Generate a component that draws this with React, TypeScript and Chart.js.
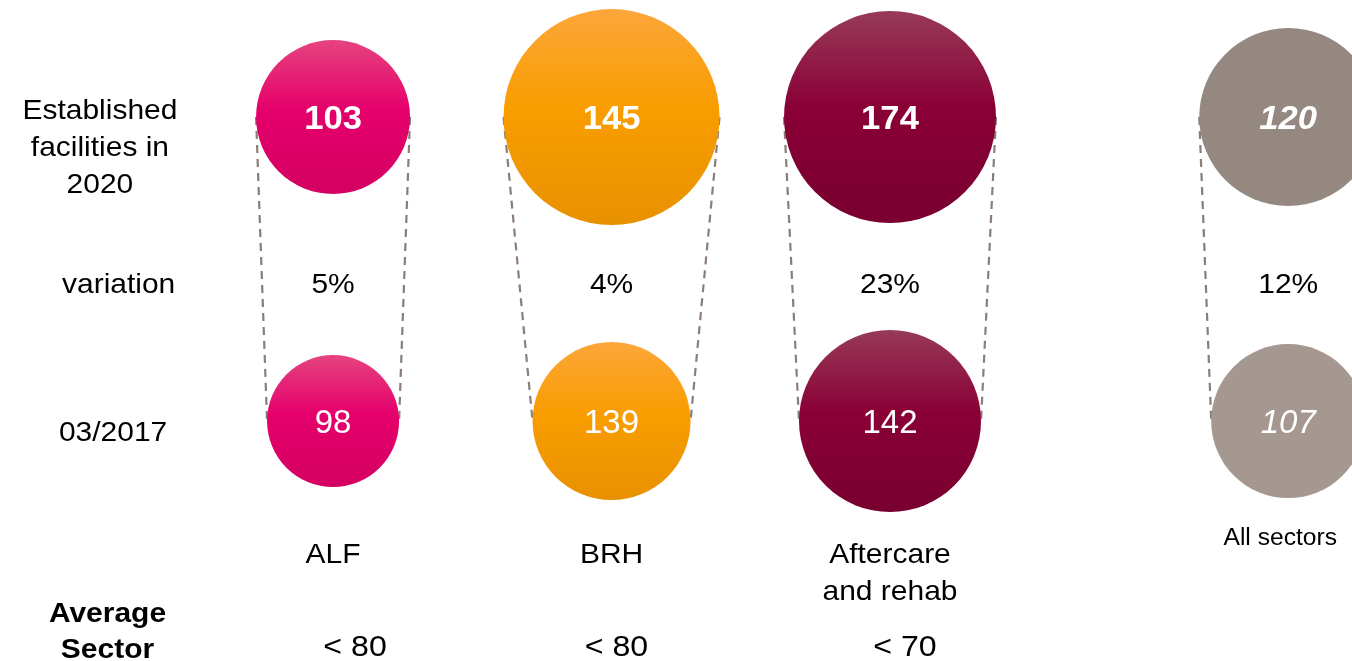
import React, { useEffect, useRef } from "react";
import { Chart, registerables } from "chart.js";
Chart.register(...registerables);

// ---- data ----
const categoryLines: string[][] = [["ALF"], ["BRH"], ["Aftercare", "and rehab"], ["All sectors"]];
const categoryPos = [1, 2, 3, 4.43];
const established2020 = [103, 145, 174, 120];
const facilities2017 = [98, 139, 142, 107];
const variationLabels = ["5%", "4%", "23%", "12%"];
const averageSector = ["< 80", "< 80", "< 70"];
const radius2020 = [77, 108, 106, 89];
const radius2017 = [66, 79, 91, 77];
const rowLabel2020 = ["Established", "facilities in", "2020"];
const rowLabelVariation = "variation";
const rowLabel2017 = "03/2017";
const rowLabelAverage = ["Average", "Sector"];

// ---- styles ----
const gradTop = ["#e6437f", "#fca63a", "#973a58", "#948880"];
const gradMid = ["#e5006b", "#f99d00", "#8a0036", "#948880"];
const gradBot = ["#d50063", "#e89100", "#790030", "#948880"];
const gradTop17 = ["#e6437f", "#fca63a", "#973a58", "#a59890"];
const gradMid17 = ["#e5006b", "#f99d00", "#8a0036", "#a59890"];
const gradBot17 = ["#d50063", "#e89100", "#790030", "#a59890"];
const FONT = "'Liberation Sans', Arial, sans-serif";
const TEXT_SCALE_X = 1.07;
const TEXT_DY = 2;

const ROW_TOP = 0;
const ROW_BOTTOM = 1;

function drawText(ctx: CanvasRenderingContext2D, text: string, x: number, y: number, font: string, color: string, sx = TEXT_SCALE_X) {
  ctx.save();
  ctx.translate(x, y + TEXT_DY);
  ctx.scale(sx, 1);
  ctx.font = font;
  ctx.fillStyle = color;
  ctx.textAlign = "center";
  ctx.textBaseline = "middle";
  ctx.fillText(text, 0, 0);
  ctx.restore();
}

function makeGradient(ctx: CanvasRenderingContext2D, cy: number, r: number, c0: string, c1: string, c2: string) {
  const g = ctx.createLinearGradient(0, cy - r, 0, cy + r);
  g.addColorStop(0, c0);
  g.addColorStop(0.45, c1);
  g.addColorStop(1, c2);
  return g;
}

const gradientPlugin = {
  id: "bubbleGradients",
  beforeDatasetsDraw(chart: any) {
    const ctx = chart.ctx as CanvasRenderingContext2D;
    const sets = [
      { radius: radius2020, top: gradTop, mid: gradMid, bot: gradBot },
      { radius: radius2017, top: gradTop17, mid: gradMid17, bot: gradBot17 },
    ];
    sets.forEach((s, d) => {
      const meta = chart.getDatasetMeta(d);
      meta.data.forEach((el: any, i: number) => {
        if (!Number.isFinite(el.y)) return;
        const g = makeGradient(ctx, el.y, s.radius[i], s.top[i], s.mid[i], s.bot[i]);
        el.options = Object.assign({}, el.options, { backgroundColor: g });
      });
    });
  },
};

const connectorPlugin = {
  id: "connectors",
  beforeDatasetsDraw(chart: any) {
    const ctx = chart.ctx as CanvasRenderingContext2D;
    const xs = chart.scales.x;
    const ys = chart.scales.y;
    const yT = ys.getPixelForValue(ROW_TOP);
    const yB = ys.getPixelForValue(ROW_BOTTOM);
    ctx.save();
    ctx.strokeStyle = "#8a7e77";
    ctx.lineWidth = 2.2;
    ctx.setLineDash([8, 6]);
    categoryPos.forEach((cx, i) => {
      const px = xs.getPixelForValue(cx);
      [-1, 1].forEach((s) => {
        ctx.beginPath();
        ctx.moveTo(px + s * radius2020[i], yT);
        ctx.lineTo(px + s * radius2017[i], yB);
        ctx.stroke();
      });
    });
    ctx.restore();
  },
};

const labelPlugin = {
  id: "labels",
  afterDatasetsDraw(chart: any) {
    const ctx = chart.ctx as CanvasRenderingContext2D;
    const xs = chart.scales.x;
    const ys = chart.scales.y;
    const yT = ys.getPixelForValue(ROW_TOP);
    const yB = ys.getPixelForValue(ROW_BOTTOM);
    const yVar = ys.getPixelForValue(0.546);
    const yCat = ys.getPixelForValue(1.434);
    const yAvg = ys.getPixelForValue(1.73);
    const regular = `28px ${FONT}`;
    const bold = `bold 28px ${FONT}`;

    categoryPos.forEach((cx, i) => {
      const px = xs.getPixelForValue(cx);
      const grey = i === 3;
      drawText(ctx, String(established2020[i]), px, yT + 1, `${grey ? "italic " : ""}bold 33px ${FONT}`, "#ffffff", 1.05);
      drawText(ctx, String(facilities2017[i]), px, yB + 1, `${grey ? "italic " : ""}33px ${FONT}`, "#ffffff", 1.0);
      drawText(ctx, variationLabels[i], px, yVar, regular, "#000000");
      if (grey) {
        drawText(ctx, categoryLines[i][0], px - 8, yCat - 16, `23px ${FONT}`, "#000000");
      } else {
        categoryLines[i].forEach((line, j) => drawText(ctx, line, px, yCat + j * 37, regular, "#000000"));
      }
    });
    const avgOffsets = [22, 5, 15];
    averageSector.forEach((t, i) => {
      const px = xs.getPixelForValue(categoryPos[i]) + avgOffsets[i];
      drawText(ctx, t, px, yAvg + 3, `30px ${FONT}`, "#000000");
    });

    const lx = xs.getPixelForValue(0.17);
    rowLabel2020.forEach((t, j) => drawText(ctx, t, lx - 2, yT - 8 + j * 37, regular, "#000000"));
    drawText(ctx, rowLabelVariation, xs.getPixelForValue(0.23), yVar, regular, "#000000");
    drawText(ctx, rowLabel2017, xs.getPixelForValue(0.21), yB + 10, regular, "#000000");
    rowLabelAverage.forEach((t, j) => drawText(ctx, t, xs.getPixelForValue(0.19), yAvg - 31 + j * 36, bold, "#000000"));
  },
};

export default function App() {
  const ref = useRef<HTMLCanvasElement | null>(null);
  useEffect(() => {
    if (!ref.current) return;
    const chart = new Chart(ref.current, {
      type: "bubble",
      data: {
        datasets: [
          {
            label: "Established facilities in 2020",
            data: categoryPos.map((x, i) => ({ x, y: ROW_TOP, r: radius2020[i], v: established2020[i] })) as any,
            backgroundColor: gradMid,
            borderWidth: 0,
            hoverRadius: 0,
          },
          {
            label: "03/2017",
            data: categoryPos.map((x, i) => ({ x, y: ROW_BOTTOM, r: radius2017[i], v: facilities2017[i] })) as any,
            backgroundColor: gradMid17,
            borderWidth: 0,
            hoverRadius: 0,
          },
        ],
      },
      options: {
        animation: false,
        responsive: false,
        events: [],
        layout: { padding: 0, autoPadding: false },
        clip: false as any,
        scales: {
          x: { type: "linear", min: -0.196, max: 4.659, display: false },
          y: { type: "linear", min: -0.385, max: 1.789, reverse: true, display: false },
        },
        plugins: { legend: { display: false }, tooltip: { enabled: false } },
      },
      plugins: [gradientPlugin, connectorPlugin, labelPlugin],
    });
    return () => chart.destroy();
  }, []);
  return (
    <div style={{ position: "absolute", left: 0, top: 0, width: 1352, height: 661, background: "#fff" }}>
      <canvas ref={ref} width={1352} height={661} style={{ width: 1352, height: 661 }} />
    </div>
  );
}
